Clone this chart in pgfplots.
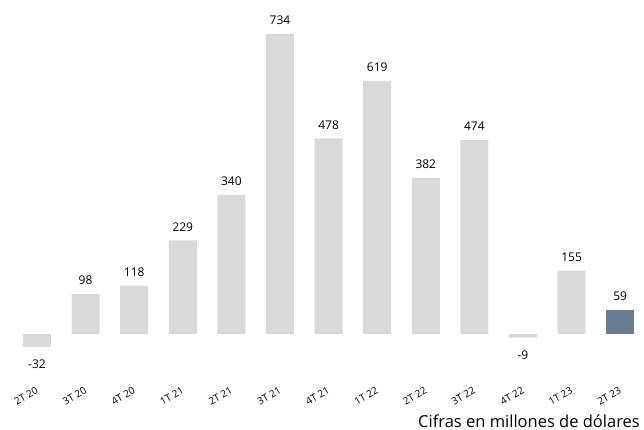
\documentclass[border=0pt]{standalone}
\usepackage{pgfplots}
\pgfplotsset{compat=1.18}
\usepackage{fontspec}
\setmainfont{Open Sans}
\definecolor{barg}{HTML}{D9D9D9}
\definecolor{barb}{HTML}{687D91}
\begin{document}
\begin{tikzpicture}
\begin{axis}[
  scale only axis,
  width=644pt, height=430pt,
  xmin=-0.761, xmax=12.49,
  ymin=-234.7, ymax=816.6,
  axis line style={draw=none},
  major tick length=0pt,
  ytick=\empty,
  xtick={0,...,12},
  xticklabels={2T 20,3T 20,4T 20,1T 21,2T 21,3T 21,4T 21,1T 22,2T 22,3T 22,4T 22,1T 23,2T 23},
  xticklabel style={font=\fontsize{10}{11}\selectfont, xshift=-11pt, yshift=34pt, rotate=30, anchor=center},
  ybar, bar width=28pt, bar shift=0pt,
  /pgf/number format/assume math mode=true,
  nodes near coords,
  nodes near coords align={vertical},
  every node near coord/.append style={font=\fontsize{12}{14}\selectfont, text=black, inner xsep=2pt, inner ysep=9pt},
  clip=false,
]
\addplot[fill=barg, draw=none] coordinates {
(1,98) (2,118) (3,229) (4,340) (5,734) (6,478) (7,619) (8,382) (9,474) (11,155)};
\addplot[fill=barg, draw=none, every node near coord/.append style={inner ysep=13pt}] coordinates {(0,-32) (10,-9)};
\addplot[fill=barb, draw=none] coordinates {(12,59)};
\coordinate (sw) at (rel axis cs:0,0);
\coordinate (ne) at (rel axis cs:1,1);
\end{axis}
\node[anchor=base east, font=\fontsize{16.5}{18}\selectfont, inner sep=0pt] at ([xshift=-4pt,yshift=2pt]sw -| ne) {Cifras en millones de dólares};
\pgfresetboundingbox
\path (sw) rectangle (ne);
\end{tikzpicture}
\end{document}
